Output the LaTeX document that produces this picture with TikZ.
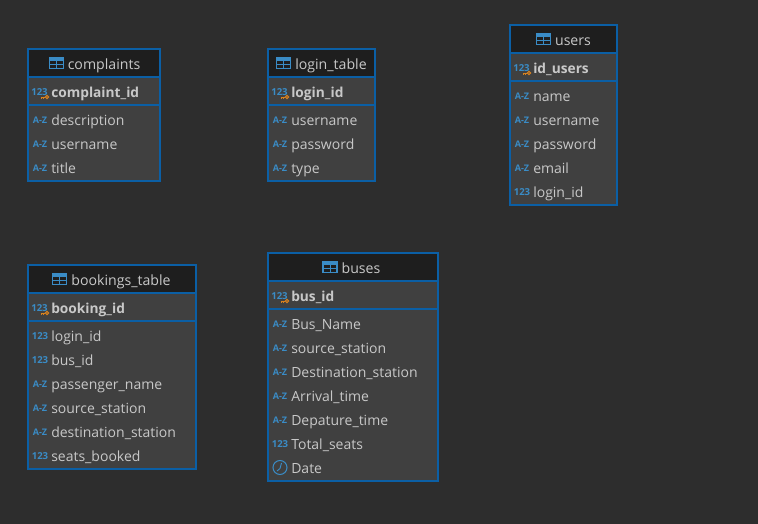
\documentclass[tikz,border=0pt]{standalone}
\usepackage{fontspec}
\setmainfont{Open Sans}
\usepackage{xcolor}
\definecolor{canvasgray}{HTML}{2D2D2D}
\definecolor{bodygray}{HTML}{404040}
\definecolor{headblack}{HTML}{1E1E1E}
\definecolor{edgeblue}{HTML}{0B5FA5}
\definecolor{iconblue}{HTML}{3A8CC6}
\definecolor{textgray}{HTML}{C8C8C8}
\definecolor{keyorange}{HTML}{D9821E}
\tikzset{
	tablebody/.style={draw=edgeblue, line width=1.5pt, fill=bodygray},
	tablehead/.style={draw=edgeblue, line width=1.1pt, fill=headblack},
	tablerule/.style={draw=edgeblue, line width=0.9pt},
	headlabel/.style={text=textgray, font=\fontsize{10.6}{12}\selectfont, inner sep=0pt, text height=10pt, text depth=2.5pt},
	fieldlabel/.style={text=textgray, font=\fontsize{10.5}{12}\selectfont, anchor=west, inner sep=0pt, text height=11pt, text depth=2.5pt},
	keylabel/.style={fieldlabel, font=\fontsize{10.3}{12}\selectfont\bfseries},
	typeaz/.style={text=iconblue, font=\fontsize{6.8}{7}\selectfont\bfseries, inner sep=0pt, text height=6pt, text depth=0pt},
	typenum/.style={text=iconblue, font=\fontsize{7.2}{8}\selectfont\bfseries, inner sep=0pt, text height=7pt, text depth=0pt},
	pics/gridicon/.style={code={
		\draw[iconblue, line width=0.8pt] (-7,-5.5) rectangle (7,5.5);
		\fill[iconblue] (-7,-5.5) rectangle (7,-2);
		\draw[iconblue, line width=0.7pt] (-7,1.5) -- (7,1.5) (0,-2) -- (0,5.5);
	}},
	pics/keyicon/.style={code={
		\draw[keyorange, line width=0.7pt] (2,0) circle (1.6);
		\draw[keyorange, line width=0.7pt] (0.4,0) -- (-4,0) (-3.2,0) -- (-3.2,1.6) (-1.2,0) -- (-1.2,1.6);
	}},
	pics/clockicon/.style={code={
		\draw[iconblue, line width=0.8pt] (0,0) circle (7);
		\draw[iconblue, line width=0.7pt] (1.5,-4.5) -- (0,1) -- (-3,3.5);
	}},
}
\begin{document}
\begin{tikzpicture}[x=0.75pt, y=-0.75pt]
	\useasboundingbox[fill=canvasgray] (0,0) rectangle (758,524);

	% complaints
	\draw[tablebody] (28,49) rectangle (160,181);
	\draw[tablehead] (28,49) rectangle (160,77);
	\draw[tablerule] (28,105) -- (160,105);
	\node[headlabel] (complaints) at (104,64.5) {complaints};
	\pic at ([xshift=-8.5pt, yshift=1pt]complaints.west) {gridicon};
	\node[typenum] (cpktype) at (39.5,91) {123};
	\pic at (45,97) {keyicon};
	\node[keylabel] (cpk) at (51,92) {complaint\_id};
	\node[typeaz] (c1type) at (40,119.5) {A-Z};
	\node[fieldlabel] (c1) at (51,120) {description};
	\node[typeaz] (c2type) at (40,143.5) {A-Z};
	\node[fieldlabel] (c2) at (51,144) {username};
	\node[typeaz] (c3type) at (40,167.5) {A-Z};
	\node[fieldlabel] (c3) at (51,168) {title};

	% login_table
	\draw[tablebody] (268,49) rectangle (375,181);
	\draw[tablehead] (268,49) rectangle (375,77);
	\draw[tablerule] (268,105) -- (375,105);
	\node[headlabel] (login) at (331,64.5) {login\_table};
	\pic at ([xshift=-8.5pt, yshift=1pt]login.west) {gridicon};
	\node[typenum] (lpktype) at (279.5,91) {123};
	\pic at (285,97) {keyicon};
	\node[keylabel] (lpk) at (291,92) {login\_id};
	\node[typeaz] (l1type) at (280,119.5) {A-Z};
	\node[fieldlabel] (l1) at (291,120) {username};
	\node[typeaz] (l2type) at (280,143.5) {A-Z};
	\node[fieldlabel] (l2) at (291,144) {password};
	\node[typeaz] (l3type) at (280,167.5) {A-Z};
	\node[fieldlabel] (l3) at (291,168) {type};

	% users
	\draw[tablebody] (510,25) rectangle (617,205);
	\draw[tablehead] (510,25) rectangle (617,53);
	\draw[tablerule] (510,81) -- (617,81);
	\node[headlabel] (users) at (573,40.5) {users};
	\pic at ([xshift=-8.5pt, yshift=1pt]users.west) {gridicon};
	\node[typenum] (upktype) at (521.5,67) {123};
	\pic at (527,73) {keyicon};
	\node[keylabel] (upk) at (533,68) {id\_users};
	\node[typeaz] (u1type) at (522,95.5) {A-Z};
	\node[fieldlabel] (u1) at (533,96) {name};
	\node[typeaz] (u2type) at (522,119.5) {A-Z};
	\node[fieldlabel] (u2) at (533,120) {username};
	\node[typeaz] (u3type) at (522,143.5) {A-Z};
	\node[fieldlabel] (u3) at (533,144) {password};
	\node[typeaz] (u4type) at (522,167.5) {A-Z};
	\node[fieldlabel] (u4) at (533,168) {email};
	\node[typenum] (u5type) at (522,191) {123};
	\node[fieldlabel] (u5) at (533,192) {login\_id};

	% bookings_table
	\draw[tablebody] (28,265) rectangle (196,469);
	\draw[tablehead] (28,265) rectangle (196,293);
	\draw[tablerule] (28,321) -- (196,321);
	\node[headlabel] (bookings) at (121,280.5) {bookings\_table};
	\pic at ([xshift=-8.5pt, yshift=1pt]bookings.west) {gridicon};
	\node[typenum] (bpktype) at (39.5,307) {123};
	\pic at (45,313) {keyicon};
	\node[keylabel] (bpk) at (51,308) {booking\_id};
	\node[typenum] (b1type) at (40,335) {123};
	\node[fieldlabel] (b1) at (51,336) {login\_id};
	\node[typenum] (b2type) at (40,359) {123};
	\node[fieldlabel] (b2) at (51,360) {bus\_id};
	\node[typeaz] (b3type) at (40,383.5) {A-Z};
	\node[fieldlabel] (b3) at (51,384) {passenger\_name};
	\node[typeaz] (b4type) at (40,407.5) {A-Z};
	\node[fieldlabel] (b4) at (51,408) {source\_station};
	\node[typeaz] (b5type) at (40,431.5) {A-Z};
	\node[fieldlabel] (b5) at (51,432) {destination\_station};
	\node[typenum] (b6type) at (40,455) {123};
	\node[fieldlabel] (b6) at (51,456) {seats\_booked};

	% buses
	\draw[tablebody] (268,253) rectangle (438,481);
	\draw[tablehead] (268,253) rectangle (438,281);
	\draw[tablerule] (268,309) -- (438,309);
	\node[headlabel] (buses) at (361,268.5) {buses};
	\pic at ([xshift=-8.5pt, yshift=1pt]buses.west) {gridicon};
	\node[typenum] (spktype) at (279.5,295) {123};
	\pic at (285,301) {keyicon};
	\node[keylabel] (spk) at (291,296) {bus\_id};
	\node[typeaz] (s1type) at (280,323.5) {A-Z};
	\node[fieldlabel] (s1) at (291,324) {Bus\_Name};
	\node[typeaz] (s2type) at (280,347.5) {A-Z};
	\node[fieldlabel] (s2) at (291,348) {source\_station};
	\node[typeaz] (s3type) at (280,371.5) {A-Z};
	\node[fieldlabel] (s3) at (291,372) {Destination\_station};
	\node[typeaz] (s4type) at (280,395.5) {A-Z};
	\node[fieldlabel] (s4) at (291,396) {Arrival\_time};
	\node[typeaz] (s5type) at (280,419.5) {A-Z};
	\node[fieldlabel] (s5) at (291,420) {Depature\_time};
	\node[typenum] (s6type) at (280,443) {123};
	\node[fieldlabel] (s6) at (291,444) {Total\_seats};
	\pic at (280,467.5) {clockicon};
	\node[fieldlabel] (s7) at (291,468) {Date};
\end{tikzpicture}
\end{document}
